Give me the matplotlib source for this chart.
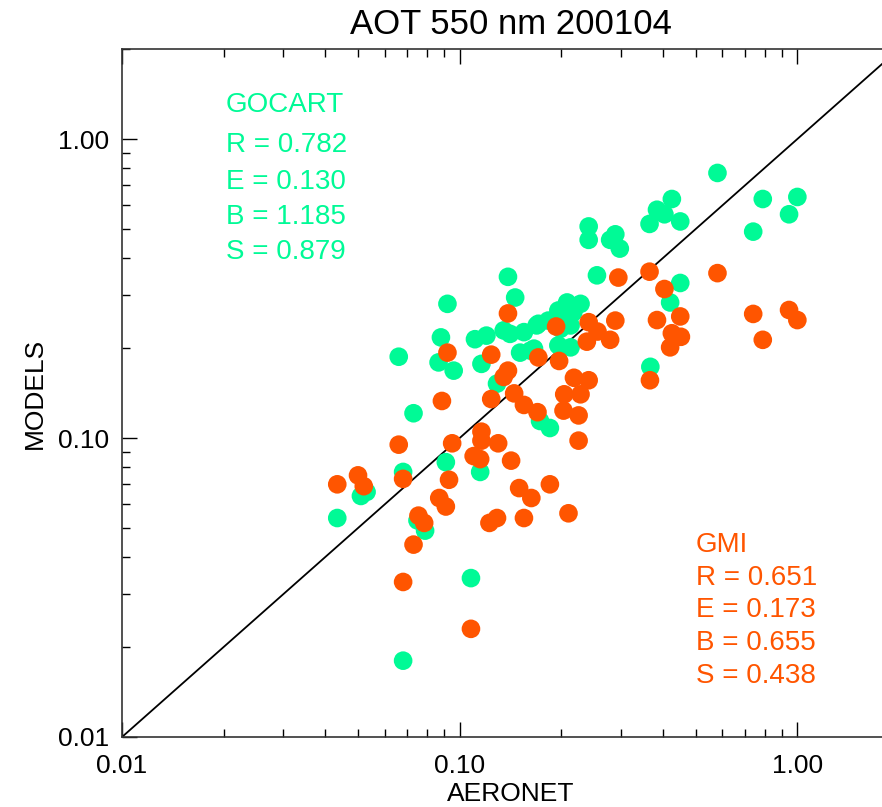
import matplotlib

matplotlib.use("Agg")
import matplotlib.pyplot as plt  # noqa: E402
from matplotlib.ticker import FixedLocator, LogLocator, NullFormatter  # noqa: E402

plt.rcParams["font.family"] = ["Liberation Sans", "DejaVu Sans"]

# AOT 550 nm, April 2001: AERONET (x) vs model (y)
gocart_x = [0.58, 0.79, 1.00, 0.945, 0.74, 0.425, 0.384, 0.404, 0.365, 0.45,
            0.241, 0.241, 0.289, 0.279, 0.298, 0.255, 0.45, 0.42, 0.367, 0.208,
            0.228, 0.196, 0.217, 0.203, 0.213, 0.199, 0.171, 0.196, 0.213, 0.166,
            0.139, 0.146, 0.092, 0.088, 0.111, 0.120, 0.135, 0.141, 0.155, 0.169,
            0.183, 0.0866, 0.096, 0.116, 0.151, 0.162, 0.129, 0.066, 0.073, 0.173,
            0.185, 0.091, 0.115, 0.068, 0.051, 0.053, 0.0434, 0.075, 0.079, 0.108,
            0.068]
gocart_y = [0.77, 0.63, 0.64, 0.56, 0.49, 0.63, 0.58, 0.56, 0.52, 0.53,
            0.51, 0.46, 0.48, 0.46, 0.43, 0.35, 0.33, 0.284, 0.173, 0.284,
            0.281, 0.267, 0.263, 0.247, 0.238, 0.232, 0.241, 0.204, 0.201, 0.199,
            0.346, 0.295, 0.281, 0.217, 0.214, 0.220, 0.229, 0.223, 0.226, 0.238,
            0.247, 0.179, 0.168, 0.177, 0.193, 0.196, 0.152, 0.187, 0.121, 0.114,
            0.108, 0.083, 0.077, 0.077, 0.064, 0.066, 0.054, 0.053, 0.049, 0.034,
            0.018]

gmi_x = [0.58, 0.295, 0.365, 0.404, 0.289, 0.384, 0.45, 0.74, 0.945, 1.00,
         0.79, 0.425, 0.452, 0.42, 0.241, 0.256, 0.238, 0.279, 0.366, 0.218,
         0.241, 0.197, 0.228, 0.204, 0.193, 0.139, 0.092, 0.124, 0.171, 0.139,
         0.135, 0.0886, 0.124, 0.145, 0.155, 0.170, 0.203, 0.225, 0.225, 0.066,
         0.095, 0.116, 0.116, 0.130, 0.110, 0.115, 0.142, 0.0434, 0.050, 0.052,
         0.068, 0.093, 0.150, 0.163, 0.185, 0.087, 0.091, 0.0755, 0.0785, 0.1225,
         0.129, 0.155, 0.210, 0.073, 0.068, 0.108]
gmi_y = [0.356, 0.344, 0.36, 0.315, 0.247, 0.248, 0.255, 0.26, 0.268, 0.248,
         0.213, 0.224, 0.218, 0.201, 0.244, 0.227, 0.210, 0.213, 0.156, 0.159,
         0.156, 0.181, 0.140, 0.140, 0.236, 0.261, 0.193, 0.190, 0.186, 0.168,
         0.160, 0.133, 0.135, 0.141, 0.129, 0.122, 0.1235, 0.119, 0.098, 0.095,
         0.096, 0.105, 0.098, 0.096, 0.087, 0.085, 0.084, 0.070, 0.075, 0.069,
         0.073, 0.0725, 0.068, 0.063, 0.070, 0.063, 0.059, 0.055, 0.052, 0.052,
         0.054, 0.054, 0.056, 0.044, 0.033, 0.023]

gocart_stats = ["GOCART", "R = 0.782", "E = 0.130", "B = 1.185", "S = 0.879"]
gmi_stats = ["GMI", "R = 0.651", "E = 0.173", "B = 0.655", "S = 0.438"]

tick_vals = [0.01, 0.1, 1.0]
tick_labels = ["0.01", "0.10", "1.00"]

GREEN = "#00FA96"
ORANGE = "#FF5500"

W, H = 882, 807
fig = plt.figure(figsize=(W / 100, H / 100), dpi=100)
# axes runs past the right edge of the canvas, so the right spine is clipped off
ax = fig.add_axes([122 / W, 70 / H, 777 / W, 688 / H])

ax.plot([0.01, 2.0], [0.01, 2.0], color="black", lw=1.3, zorder=1)
ax.scatter(gocart_x, gocart_y, s=180, color=GREEN, edgecolors="none", zorder=2)
ax.scatter(gmi_x, gmi_y, s=180, color=ORANGE, edgecolors="none", zorder=3)

ax.set_xscale("log")
ax.set_yscale("log")
ax.set_xlim(0.01, 2.0)
ax.set_ylim(0.01, 2.0)

for axis in (ax.xaxis, ax.yaxis):
    axis.set_major_locator(FixedLocator(tick_vals))
    axis.set_minor_locator(LogLocator(base=10, subs=range(2, 10)))
    axis.set_minor_formatter(NullFormatter())
ax.set_xticklabels(tick_labels)
ax.set_yticklabels(tick_labels)

ax.tick_params(which="both", direction="in", top=True, right=True, labelsize=19)
ax.tick_params(which="major", length=11, width=1)
ax.tick_params(which="minor", length=6, width=1)
ax.tick_params(axis="x", pad=12)
ax.tick_params(axis="y", pad=9)
for sp in ax.spines.values():
    sp.set_linewidth(1.2)
    sp.set_color("#333333")

ax.set_title("AOT 550 nm 200104", fontsize=25, pad=11)
ax.set_xlabel("AERONET", fontsize=19, labelpad=3)
ax.set_ylabel("MODELS", fontsize=19, labelpad=8)

gocart_rows = [105, 145, 182, 217, 252]
for txt, yp in zip(gocart_stats, gocart_rows):
    fig.text(226 / W, 1 - yp / H, txt, color=GREEN, fontsize=20, va="center", ha="left")

gmi_rows = [545, 578, 610, 643, 676]
for txt, yp in zip(gmi_stats, gmi_rows):
    fig.text(696 / W, 1 - yp / H, txt, color=ORANGE, fontsize=20, va="center", ha="left")

fig.savefig("out.png", dpi=100)
